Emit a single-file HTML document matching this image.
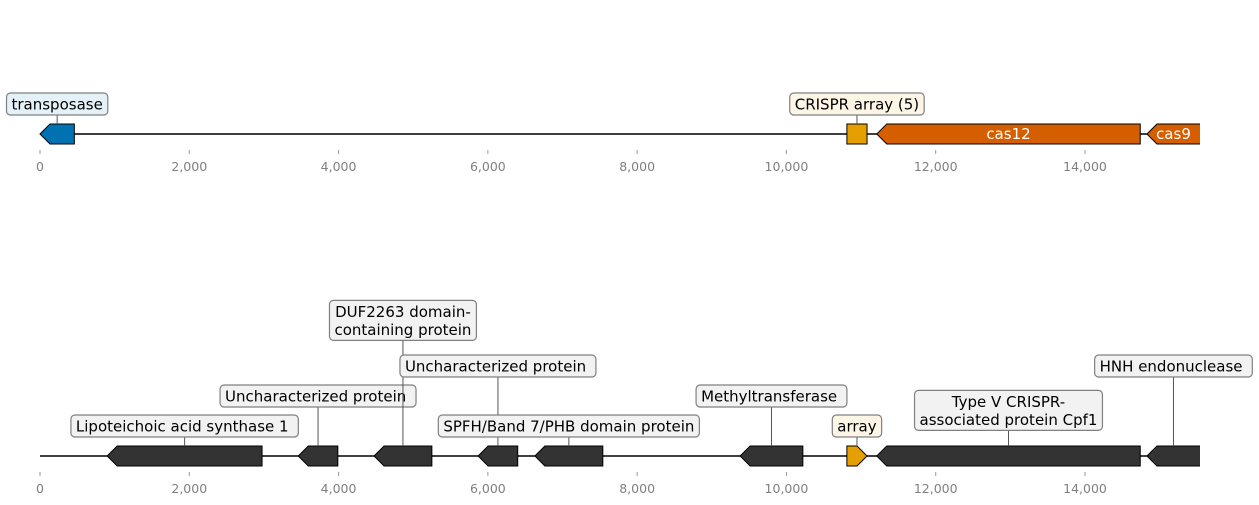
<!DOCTYPE html>
<html><head><meta charset="utf-8"><style>
body{margin:0;background:#fff}
svg{display:block;font-family:"DejaVu Sans","Liberation Sans",sans-serif}
text{white-space:pre}
</style></head><body>
<svg id="c" width="1259" height="505" xmlns="http://www.w3.org/2000/svg"></svg>
<script>
const ticks=[0,2000,4000,6000,8000,10000,12000,14000];
const tickLabels=["0","2,000","4,000","6,000","8,000","10,000","12,000","14,000"];
const topStarts=[0,10810,11210,14830];
const topEnds=[460,11080,14740,15650];
const topStrands=[-1,0,-1,-1];
const topNames=["transposase","CRISPR array (5)","cas12","cas9"];
const topColors=["#0072b2","#e69f00","#d55e00","#d55e00"];
const topInside=[false,false,true,true];
const topLabelFill=["#e5f1f8","#fdf5e6",null,null];
const botStarts=[900,3460,4475,5870,6630,9380,10810,11210,14830];
const botEnds=[2975,3990,5250,6400,7540,10220,11080,14740,15650];
const botStrands=[-1,-1,-1,-1,-1,-1,1,-1,-1];
const botNames=["Lipoteichoic acid synthase 1 ","Uncharacterized protein ","DUF2263 domain-\ncontaining protein","Uncharacterized protein ","SPFH/Band 7/PHB domain protein","Methyltransferase ","array","Type V CRISPR-\nassociated protein Cpf1","HNH endonuclease "];
const botColors=["#333","#333","#333","#333","#333","#333","#e69f00","#333","#333"];
const botLevel=[0,1,3.22,2,0,1,0,0.22,2];
const botLabelFill=["#f2f2f2","#f2f2f2","#f2f2f2","#f2f2f2","#f2f2f2","#f2f2f2","#fdf5e6","#f2f2f2","#f2f2f2"];
const NS="http://www.w3.org/2000/svg";
const svg=document.getElementById('c');
const x0=40,k=1045/14000,xmax=1200;
const X=v=>x0+v*k;
function el(t,a,p){const e=document.createElementNS(NS,t);for(const n in a)e.setAttribute(n,a[n]);(p||svg).appendChild(e);return e;}
const clip=el('clipPath',{id:'cl'});el('rect',{x:0,y:0,width:xmax,height:505},clip);
function label(cx,cy,lines,fill,name){
  const lh=18,h=lines.length*lh+4;
  const g=el('g',{});
  
  
  const r=el('rect',{x:0,y:cy-h/2,width:10,height:h,rx:4,fill:fill,stroke:'#808080','stroke-width':1.2},g);
  let w=0;
  lines.forEach((s,i)=>{const t=el('text',{x:cx,y:cy-h/2+2+lh*(i+0.8),'text-anchor':'middle','font-size':15,fill:'#000'},g);t.textContent=s;w=Math.max(w,t.getComputedTextLength());});
  w+=10;
  r.setAttribute('x',cx-w/2);r.setAttribute('width',w);
  return h;
}
function track(cy,starts,ends,strands,names,colors,inside,fills,levels,pre){
  el('line',{x1:x0,x2:xmax,y1:cy,y2:cy,stroke:'#000','stroke-width':1.6});
  const ax=el('g',{});
  
  
  ticks.forEach((t,i)=>{el('line',{x1:X(t),x2:X(t),y1:cy+16,y2:cy+20,stroke:'#999'},ax);
    const tx=el('text',{x:X(t),y:cy+37,'text-anchor':'middle','font-size':12.5,fill:'#808080'},ax);tx.textContent=tickLabels[i];});
  starts.forEach((s,i)=>{
    const a=X(s),b=X(ends[i]),h=10,hd=Math.min(10,(b-a)/2);let pts;
    if(strands[i]<0)pts=[[a,cy],[a+hd,cy-h],[b,cy-h],[b,cy+h],[a+hd,cy+h]];
    else if(strands[i]>0)pts=[[a,cy-h],[b-hd,cy-h],[b,cy],[b-hd,cy+h],[a,cy+h]];
    else pts=[[a,cy-h],[b,cy-h],[b,cy+h],[a,cy+h]];
    const p=el('polygon',{points:pts.map(q=>q.join(',')).join(' '),fill:colors[i],stroke:'#000','stroke-width':1,'clip-path':'url(#cl)'});
    
    
    const cx=(a+Math.min(b,xmax))/2;
    if(inside[i]){const t=el('text',{x:cx,y:cy+5,'text-anchor':'middle','font-size':15,fill:'#fff'});t.textContent=names[i];}
    else{
      const lines=names[i].split('\n');
      const ly=cy-30-levels[i]*30-(lines.length-1)*9;
      const hh=(lines.length*18+4)/2;
      el('line',{x1:cx,x2:cx,y1:ly+hh,y2:cy-h,stroke:'#555','stroke-width':1});
      label(cx,ly,lines,fills[i],pre+'-label-'+(i+1));
    }
  });
}
track(134,topStarts,topEnds,topStrands,topNames,topColors,topInside,topLabelFill,[0,0,0,0],'top');
track(456,botStarts,botEnds,botStrands,botNames,botColors,botNames.map(()=>false),botLabelFill,botLevel,'bottom');
</script>
</body></html>
